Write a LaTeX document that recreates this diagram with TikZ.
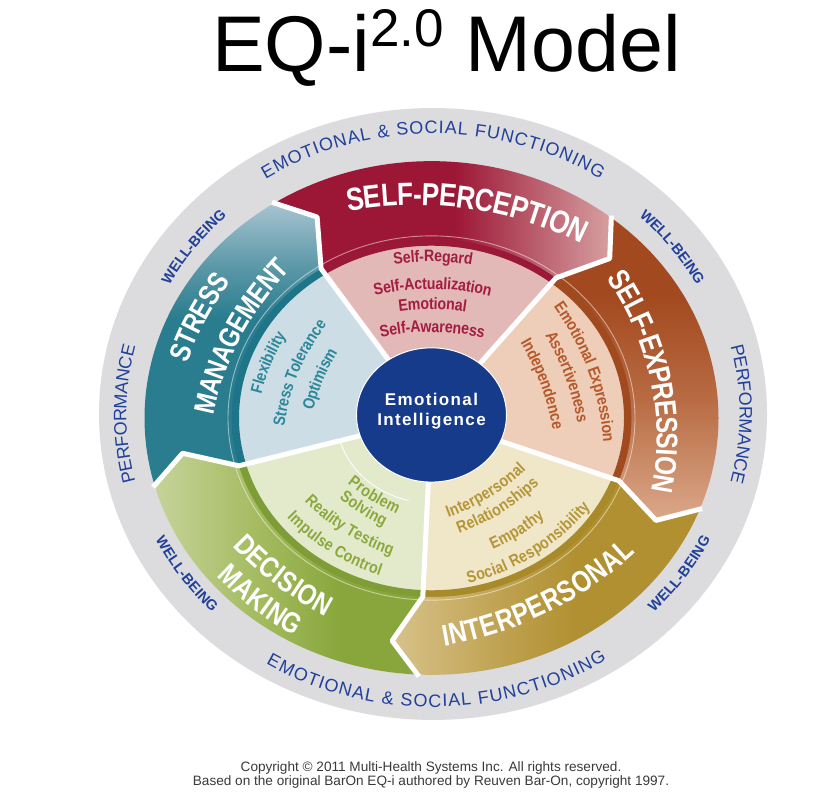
\documentclass[tikz,border=0pt]{standalone}
\usepackage{fontspec}
\setmainfont{Liberation Sans}
\newfontfamily\condb[FakeStretch=0.82]{Liberation Sans}
\newfontfamily\innerf[FakeStretch=0.86]{Liberation Sans}
\newfontfamily\ctrf[LetterSpace=8]{Liberation Sans}
\usetikzlibrary{decorations.text}

\definecolor{ringgray}{HTML}{DCDCDF}
\definecolor{ringblue}{HTML}{21409A}
\definecolor{eiblue}{HTML}{173B8B}
\definecolor{copyc}{HTML}{3A3A3A}
\definecolor{spdark}{HTML}{9C1736}\definecolor{splight}{HTML}{D69FA0}
\definecolor{sedark}{HTML}{A3491F}\definecolor{semid}{HTML}{B86B43}\definecolor{selight}{HTML}{DBA88A}
\definecolor{ipdark}{HTML}{B09030}\definecolor{ipmid}{HTML}{C0A353}\definecolor{iplight}{HTML}{D8C28B}
\definecolor{dmdark}{HTML}{88A63B}\definecolor{dmmid}{HTML}{A3BA5E}\definecolor{dmlight}{HTML}{C6D399}
\definecolor{smdark}{HTML}{2A7D8F}\definecolor{smmid}{HTML}{5C98A8}\definecolor{smlight}{HTML}{A6C3D0}
\definecolor{spin}{HTML}{E3B9B8}\definecolor{sein}{HTML}{EECDB9}\definecolor{ipin}{HTML}{F0E6C8}
\definecolor{dmin}{HTML}{E3EACC}\definecolor{smin}{HTML}{CDDDE5}
\definecolor{spring}{HTML}{9A1838}\definecolor{sering}{HTML}{A24A1F}\definecolor{ipring}{HTML}{A88A2A}
\definecolor{dmring}{HTML}{7F9D36}\definecolor{smring}{HTML}{1E7587}
\definecolor{sptx}{HTML}{A31C41}\definecolor{setx}{HTML}{B5592B}\definecolor{iptx}{HTML}{B39638}
\definecolor{dmtx}{HTML}{8BA83C}\definecolor{smtx}{HTML}{2B8799}

\pgfdeclarehorizontalshading{spsh}{100bp}{color(0bp)=(spdark); color(25bp)=(spdark); color(52bp)=(spdark); color(75bp)=(splight); color(100bp)=(splight)}
\pgfdeclareverticalshading{sesh}{100bp}{color(0bp)=(selight); color(25bp)=(selight); color(45bp)=(semid); color(62bp)=(sedark); color(100bp)=(sedark)}
\pgfdeclarehorizontalshading{ipsh}{100bp}{color(0bp)=(iplight); color(25bp)=(iplight); color(42bp)=(ipmid); color(55bp)=(ipdark); color(100bp)=(ipdark)}
\pgfdeclarehorizontalshading{dmsh}{100bp}{color(0bp)=(dmlight); color(25bp)=(dmlight); color(45bp)=(dmmid); color(60bp)=(dmdark); color(100bp)=(dmdark)}
\pgfdeclareverticalshading{smsh}{100bp}{color(0bp)=(smdark); color(25bp)=(smdark); color(55bp)=(smdark); color(64bp)=(smmid); color(75bp)=(smlight); color(100bp)=(smlight)}

% text along an arc: #1 angle, #2 distance of mid point, #3 arc radius, #4 half span, #5 raise, #6 format, #7 text
\newcommand\cwarc[7]{\begin{scope}[shift={(#1:#2-#3)}]\path[decorate,decoration={text along path,text align=center,raise=#5,text={|#6|#7}}] (#1+#4:#3) arc[start angle=#1+#4,end angle=#1-#4,radius=#3];\end{scope}}
\newcommand\ccwarc[7]{\begin{scope}[shift={(#1:#2-#3)}]\path[decorate,decoration={text along path,text align=center,raise=#5,text={|#6|#7}}] (#1-#4:#3) arc[start angle=#1-#4,end angle=#1+#4,radius=#3];\end{scope}}
% text stretched over an arc: #1 start angle, #2 end angle, #3 radius, #4 raise, #5 format, #6 text
\newcommand\fitarc[6]{\path[decorate,decoration={text along path,text align=fit to path,raise=#4,text={|#5|#6}}] (#1:#3) arc[start angle=#1,end angle=#2,radius=#3];}
\newcommand\ringfmt{\fontsize{18}{18}\selectfont\color{ringblue}}
\newcommand\wbfmt{\bfseries\fontsize{14.5}{15}\selectfont\color{ringblue}}
\newcommand\tfmt[1]{\condb\bfseries\fontsize{#1}{#1}\selectfont\color{white}}
\newcommand\infmt{\innerf\bfseries\fontsize{16.5}{16.5}\selectfont}

\begin{document}
\begin{tikzpicture}[x=1pt,y=1pt]
\useasboundingbox (0,0) rectangle (829,808);
\fill[white] (0,0) rectangle (829,808);

\node[anchor=base west, inner sep=0pt, font=\fontsize{79}{82}\selectfont] (title) at (212,736) {EQ-i\raisebox{25pt}{\fontsize{53}{53}\selectfont 2.0} Model};

\node[anchor=base, inner sep=0pt, font=\fontsize{13.6}{15}\selectfont, text=copyc] (cr1) at (431,37) {Copyright © 2011 Multi-Health Systems Inc. All rights reserved.};
\node[anchor=base, inner sep=0pt, font=\fontsize{13.6}{15}\selectfont, text=copyc] (cr2) at (431,23) {Based on the original BarOn EQ-i authored by Reuven Bar-On, copyright 1997.};

% ---------- gray disc
\begin{scope}[shift={(433pt,394pt)}, y=0.916pt]
  \fill[ringgray] (0,0) circle[radius=334];
\end{scope}

% ---------- wheel
\begin{scope}[shift={(431.5pt,390pt)}, y=0.895pt]
  \foreach \a/\b/\c/\r in {123.5/51.5/spin/spring, 51.5/-20.5/sein/sering, -20.5/-92.5/ipin/ipring, -92.5/-164.5/dmin/dmring, 195.5/123.5/smin/smring}{
    \fill[\c] (0,0) -- (\b:193) arc[start angle=\b, end angle=\a, radius=193] -- cycle;
    \fill[\r] (\b:192.5) arc[start angle=\b, end angle=\a, radius=192.5] -- (\a:200.5) arc[start angle=\a, end angle=\b, radius=200.5] -- cycle;
  }
  \foreach \a/\b/\sh in {123.5/51.5/spsh, 51.5/-20.5/sesh, -20.5/-92.5/ipsh, -92.5/-164.5/dmsh, 195.5/123.5/smsh}{
    \shade[shading=\sh] (\b:200) -- (\b-6.5:252) -- (\b:287) arc[start angle=\b, end angle=\a, radius=287] -- (\a-6.5:252) -- (\a:200) arc[start angle=\a, end angle=\b, radius=200] -- cycle;
  }
  \draw[white, opacity=0.5, line width=0.9pt] (0,0) circle[radius=203.5];
  \foreach \a in {123.5, 51.5, -20.5, -92.5, 195.5}{
    \draw[white, line width=5pt, line join=round] (\a:70) -- (\a:200) -- (\a-6.5:252) -- (\a:289);
  }
  % centre
  \fill[eiblue] (0,3.4) circle[radius=75];
  \draw[white, line width=1pt] (0,3.4) circle[radius=75];
  \draw[white, line width=0.8pt] (194:95) arc[start angle=194, end angle=256, radius=95];
  \node[font=\ctrf\bfseries\fontsize{17}{17}\selectfont, text=white, anchor=base, inner sep=0pt] (ei1) at (0,14) {Emotional};
  \node[font=\ctrf\bfseries\fontsize{17}{17}\selectfont, text=white, anchor=base, inner sep=0pt] (ei2) at (0,-8.9) {Intelligence};

  % band titles
  \cwarc{81}{249}{350}{30}{-11.3pt}{\tfmt{32}}{SELF-PERCEPTION}
  \cwarc{10.5}{234}{350}{30}{-10.7pt}{\tfmt{30}}{SELF-EXPRESSION}
  \ccwarc{-61}{235}{350}{30}{-10.7pt}{\tfmt{30}}{INTERPERSONAL}
  \ccwarc{229.5}{232}{350}{20}{-10.4pt}{\tfmt{29}}{DECISION}
  \ccwarc{229.5}{267}{350}{20}{-10.4pt}{\tfmt{29}}{MAKING}
  \cwarc{154.5}{261}{350}{20}{-10.4pt}{\tfmt{29}}{STRESS}
  \cwarc{155}{221}{350}{25}{-10.4pt}{\tfmt{29}}{MANAGEMENT}

  % subscales
  \cwarc{89.5}{181}{220}{35}{-5.8pt}{\infmt\color{sptx}}{Self-Regard}
  \cwarc{89.5}{150.5}{220}{35}{-5.8pt}{\infmt\color{sptx}}{Self-Actualization}
  \cwarc{89.5}{128}{220}{35}{-5.8pt}{\infmt\color{sptx}}{Emotional}
  \cwarc{89.5}{102.5}{220}{35}{-5.8pt}{\infmt\color{sptx}}{Self-Awareness}

  \cwarc{18}{171}{320}{25}{-5.8pt}{\infmt\color{setx}}{Emotional Expression}
  \cwarc{18}{147}{320}{25}{-5.8pt}{\infmt\color{setx}}{Assertiveness}
  \cwarc{18}{121}{320}{25}{-5.8pt}{\infmt\color{setx}}{Independence}

  \cwarc{160}{177}{250}{32}{-5.8pt}{\infmt\color{smtx}}{Flexibility}
  \cwarc{160}{148}{250}{32}{-5.8pt}{\infmt\color{smtx}}{Stress Tolerance}
  \cwarc{160}{122}{250}{32}{-5.8pt}{\infmt\color{smtx}}{Optimism}

  \ccwarc{234.5}{104}{220}{35}{-5.8pt}{\infmt\color{dmtx}}{Problem}
  \ccwarc{234.5}{122}{220}{35}{-5.8pt}{\infmt\color{dmtx}}{Solving}
  \ccwarc{234.5}{149}{220}{35}{-5.8pt}{\infmt\color{dmtx}}{Reality Testing}
  \ccwarc{234.5}{175}{220}{35}{-5.8pt}{\infmt\color{dmtx}}{Impulse Control}

  \ccwarc{-54.5}{100}{220}{35}{-5.8pt}{\infmt\color{iptx}}{Interpersonal}
  \ccwarc{-54.5}{121}{220}{35}{-5.8pt}{\infmt\color{iptx}}{Relationships}
  \ccwarc{-54.5}{152}{220}{35}{-5.8pt}{\infmt\color{iptx}}{Empathy}
  \ccwarc{-54.5}{179}{220}{35}{-5.8pt}{\infmt\color{iptx}}{Social Responsibility}
\end{scope}

% ---------- ring texts
\begin{scope}[shift={(433pt,394pt)}, y=0.916pt]
  \fitarc{123}{57}{313}{-6.4pt}{\ringfmt}{EMOTIONAL {\&} SOCIAL FUNCTIONING}
  \fitarc{-121.6}{-57}{313}{-6.4pt}{\ringfmt}{EMOTIONAL {\&} SOCIAL FUNCTIONING}
  \cwarc{180}{313}{313}{30}{-6.4pt}{\ringfmt}{PERFORMANCE}
  \cwarc{0}{313}{313}{30}{-6.4pt}{\ringfmt}{PERFORMANCE}
  \cwarc{143}{304}{304}{22}{-5.2pt}{\wbfmt}{WELL-BEING}
  \cwarc{37}{304}{304}{22}{-5.2pt}{\wbfmt}{WELL-BEING}
  \ccwarc{215}{304}{304}{22}{-5.2pt}{\wbfmt}{WELL-BEING}
  \ccwarc{-35}{304}{304}{22}{-5.2pt}{\wbfmt}{WELL-BEING}
\end{scope}
\end{tikzpicture}
\end{document}
